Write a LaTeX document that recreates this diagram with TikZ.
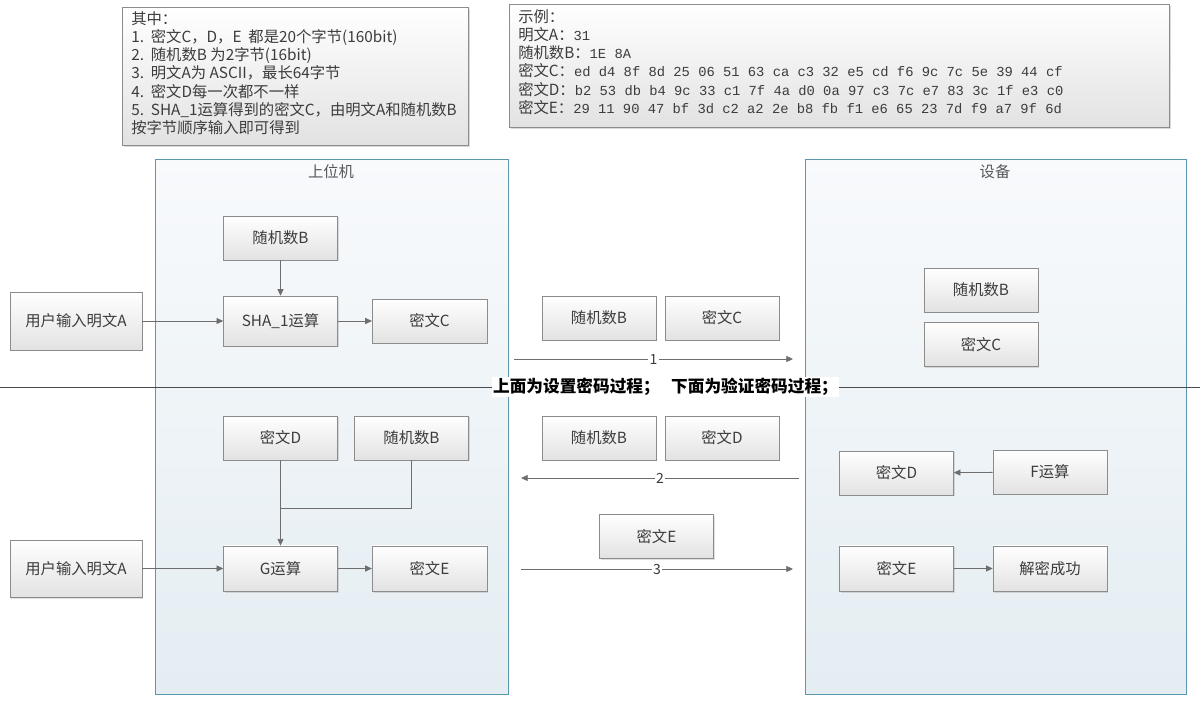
\documentclass[tikz,border=0pt]{standalone}
\usepackage{fontspec}
\setmainfont{Noto Sans CJK SC}
\newfontfamily\hexfont[Scale=0.9]{Liberation Mono}
\usetikzlibrary{arrows.meta,shadows}

\definecolor{boxline}{HTML}{8C8C8C}
\definecolor{boxbot}{HTML}{E2E2E2}
\definecolor{panelline}{HTML}{5B97AE}
\definecolor{paneltop}{HTML}{F8FAFC}
\definecolor{panelbot}{HTML}{E4EDF2}
\definecolor{linkgray}{HTML}{6E6E6E}
\definecolor{txtgray}{HTML}{3C3C3C}

\tikzset{
  blk/.style={draw=boxline, top color=white, bottom color=boxbot, text=txtgray,
    minimum width=85.5pt, minimum height=33pt, inner sep=2pt,
    font=\fontsize{11.5}{13}\selectfont,
    drop shadow={shadow xshift=1pt, shadow yshift=-1pt, opacity=0.25}},
  notebox/.style={draw=boxline, top color=white, bottom color=boxbot,
    drop shadow={shadow xshift=1.2pt, shadow yshift=-1.2pt, opacity=0.3}},
  notetext/.style={anchor=north west, align=left, inner sep=0pt, text=txtgray,
    font=\fontsize{11.5}{13.7}\selectfont},
  panel/.style={draw=panelline, line width=0.6pt, top color=paneltop, bottom color=panelbot},
  ptitle/.style={text=txtgray!85, font=\fontsize{11.5}{13}\selectfont},
  link/.style={draw=linkgray, line width=0.6pt},
  lbl/.style={fill=white, inner sep=1pt, text=txtgray, font=\fontsize{10.5}{12}\selectfont},
}

\begin{document}
\begin{tikzpicture}[x=0.75pt,y=-0.75pt,>={Triangle[length=5pt,width=4.5pt]}]
  \useasboundingbox (0,0) rectangle (1200,701);

  % 说明框
  \path[notebox] (122,7) rectangle (468,145);
  \node[notetext] (notes) at (131,11) {其中：\\
    1.\ \ 密文C，D，E\ \ 都是20个字节(160bit)\\
    2.\ \ 随机数B\ 为2字节(16bit)\\
    3.\ \ 明文A为\ ASCII，最长64字节\\
    4.\ \ 密文D每一次都不一样\\
    5.\ \ SHA\_1运算得到的密文C，由明文A和随机数B\\
    按字节顺序输入即可得到};

  % 示例框
  \path[notebox] (509,4) rectangle (1169,127);
  \node[notetext] (sample) at (518,9) {示例：\\
    明文A：{\hexfont 31}\\
    随机数B：{\hexfont 1E 8A}\\
    密文C：{\hexfont ed d4 8f 8d 25 06 51 63 ca c3 32 e5 cd f6 9c 7c 5e 39 44 cf}\\
    密文D：{\hexfont b2 53 db b4 9c 33 c1 7f 4a d0 0a 97 c3 7c e7 83 3c 1f e3 c0}\\
    密文E：{\hexfont 29 11 90 47 bf 3d c2 a2 2e b8 fb f1 e6 65 23 7d f9 a7 9f 6d}};

  % 上位机与设备
  \path[panel] (155,159) rectangle (508,694);
  \path[panel] (805,159) rectangle (1186,694);
  \node[ptitle] (host) at (331,172) {上位机};
  \node[ptitle] (dev) at (995,172) {设备};

  % 设置密码
  \node[blk] (rndA) at (280.5,238) {随机数B};
  \node[blk, minimum height=37.5pt] (sha) at (280.5,321) {SHA\_1运算};
  \node[blk, minimum width=86pt] (ctC) at (429.5,321) {密文C};
  \node[blk, minimum width=99pt, minimum height=43.5pt] (userA) at (76,321) {用户输入明文A};
  \draw[link,->] (rndA) -- (sha);
  \draw[link,->] (userA) -- (sha);
  \draw[link,->] (sha) -- (ctC);

  % 验证密码
  \node[blk] (ctD) at (280.5,438) {密文D};
  \node[blk] (rndB) at (411.5,438) {随机数B};
  \node[blk, minimum height=34pt] (gop) at (280.5,568.5) {G运算};
  \node[blk, minimum width=86pt, minimum height=34pt] (ctE) at (429.5,568.5) {密文E};
  \node[blk, minimum width=99pt, minimum height=43pt] (userB) at (76,568.5) {用户输入明文A};
  \coordinate (join) at (280.5,508);
  \draw[link,->] (ctD) -- (gop);
  \draw[link] (rndB.south) |- (join);
  \draw[link,->] (userB) -- (gop);
  \draw[link,->] (gop) -- (ctE);

  % 传输的数据
  \foreach \nm/\x/\y/\txt in {mRndA/599/318/随机数B, mCtC/722/318/密文C,
      mRndB/599/438/随机数B, mCtD/722/438/密文D, mCtE/656.5/536.5/密文E}
    \node[blk] (\nm) at (\x,\y) {\txt};
  \coordinate (s1) at (514,359);  \coordinate (e1) at (793,359);
  \coordinate (s2) at (799,478);  \coordinate (e2) at (521,478);
  \coordinate (s3) at (521,569);  \coordinate (e3) at (793,569);
  \draw[link,->] (s1) -- node[lbl] (n1) {1} (e1);
  \draw[link,->] (s2) -- node[lbl] (n2) {2} (e2);
  \draw[link,->] (s3) -- node[lbl] (n3) {3} (e3);

  % 设备端
  \node[blk] (dRnd) at (981,290) {随机数B};
  \node[blk] (dCtC) at (981,344.5) {密文C};
  \node[blk] (dCtD) at (896.5,473) {密文D};
  \node[blk] (dF) at (1050,472) {F运算};
  \node[blk, minimum height=34pt] (dCtE) at (896.5,568.5) {密文E};
  \node[blk, minimum height=34pt] (dOk) at (1050,568.5) {解密成功};
  \draw[link,->] (dF) -- (dCtD);
  \draw[link,->] (dCtE) -- (dOk);

  % 分隔线
  \coordinate (sepL) at (0,387);
  \coordinate (sepR) at (1200,387);
  \draw[draw=black!70, line width=0.6pt] (sepL) -- (sepR);
  \node[fill=white, inner sep=1pt, font=\fontsize{12.5}{14}\selectfont\bfseries] (sep) at (665.5,387)
    {上面为设置密码过程；\ \ \ 下面为验证密码过程；};
\end{tikzpicture}
\end{document}
